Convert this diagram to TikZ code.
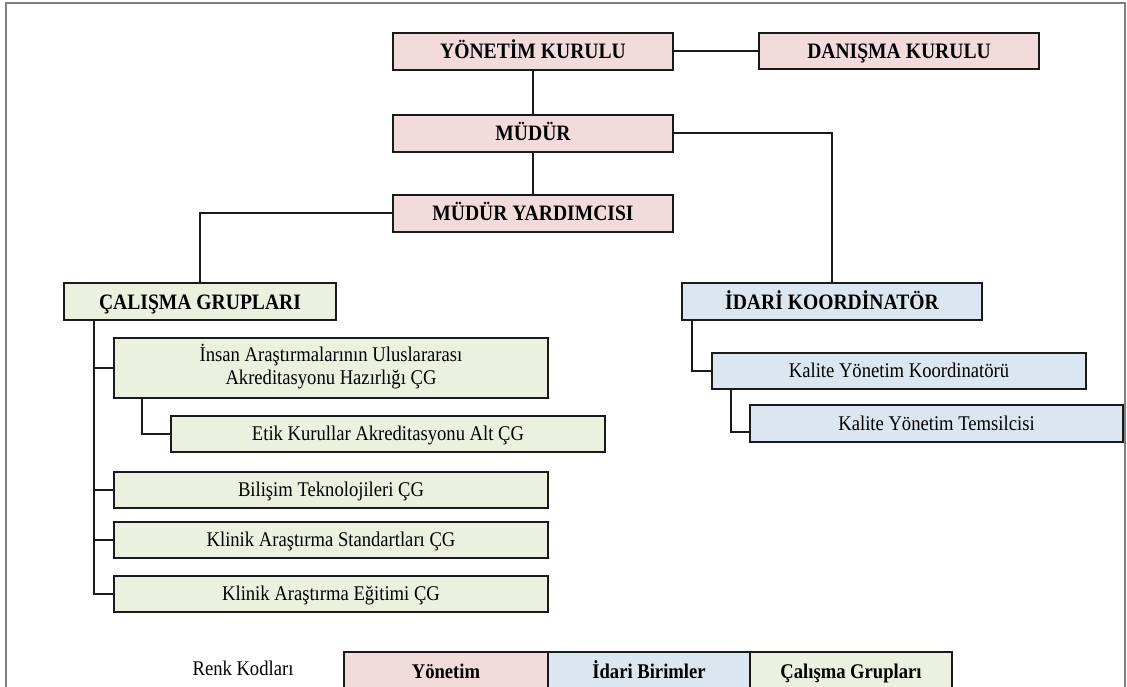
\documentclass[tikz,border=0pt]{standalone}
\usepackage{graphicx}
\usepackage{fontspec}
\setmainfont{Liberation Serif}
\definecolor{yonetim}{HTML}{F2DCDB}
\definecolor{idari}{HTML}{DCE6F1}
\definecolor{calisma}{HTML}{EBF1DE}
\definecolor{edge}{HTML}{1A1A1A}
\definecolor{framec}{HTML}{7F7F7F}
\newcommand{\tx}[1]{\scalebox{0.98}[1.1]{#1}}
\tikzset{
  box/.style={draw=edge, line width=2pt, inner sep=0pt, text=black, align=center},
  titlebox/.style={box, font=\fontsize{20}{24}\selectfont\bfseries, text height=15pt, text depth=0pt},
  plainbox/.style={box, font=\fontsize{19}{21}\selectfont},
  oneline/.style={text height=13pt, text depth=0pt},
  legendbox/.style={box, font=\fontsize{19}{23}\selectfont\bfseries, minimum height=38pt, text height=14pt, text depth=0pt},
  conn/.style={draw=edge, line width=2pt},
}
\begin{document}
\begin{tikzpicture}[x=1pt, y=-1pt]
\useasboundingbox (0,0) rectangle (1127,687);
\clip (0,0) rectangle (1127,687);
\draw[framec, line width=1.5pt] (6,3) rectangle (1125,710);

% management
\node[titlebox, fill=yonetim, minimum width=280pt, minimum height=37pt] (yk) at (533,51.5) {\tx{YÖNETİM KURULU}};
\node[titlebox, fill=yonetim, minimum width=280pt, minimum height=36pt] (dk) at (899,51) {\tx{DANIŞMA KURULU}};
\node[titlebox, fill=yonetim, minimum width=280pt, minimum height=37pt] (mud) at (533,133.5) {\tx{MÜDÜR}};
\node[titlebox, fill=yonetim, minimum width=280pt, minimum height=37pt] (my) at (533,213.5) {\tx{MÜDÜR YARDIMCISI}};

% working groups
\node[titlebox, fill=calisma, minimum width=272pt, minimum height=37pt] (cg) at (200,301.5) {\tx{ÇALIŞMA GRUPLARI}};
\node[plainbox, fill=calisma, minimum width=434pt, minimum height=60pt] (ins) at (331,368) {\tx{\begin{tabular}{@{}c@{}}İnsan Araştırmalarının Uluslararası\\Akreditasyonu Hazırlığı ÇG\end{tabular}}};
\node[plainbox, oneline, fill=calisma, minimum width=434pt, minimum height=36pt] (etik) at (388,434) {\tx{Etik Kurullar Akreditasyonu Alt ÇG}};
\node[plainbox, oneline, fill=calisma, minimum width=434pt, minimum height=36pt] (bil) at (331,490) {\tx{Bilişim Teknolojileri ÇG}};
\node[plainbox, oneline, fill=calisma, minimum width=434pt, minimum height=36pt] (std) at (331,540) {\tx{Klinik Araştırma Standartları ÇG}};
\node[plainbox, oneline, fill=calisma, minimum width=434pt, minimum height=36pt] (egt) at (331,594) {\tx{Klinik Araştırma Eğitimi ÇG}};

% administrative units
\node[titlebox, fill=idari, minimum width=300pt, minimum height=37pt] (ik) at (832,301.5) {\tx{İDARİ KOORDİNATÖR}};
\node[plainbox, oneline, fill=idari, minimum width=374pt, minimum height=36pt] (kyk) at (899,371) {\tx{Kalite Yönetim Koordinatörü}};
\node[plainbox, oneline, fill=idari, minimum width=373pt, minimum height=37pt] (kyt) at (936.5,423.5) {\tx{Kalite Yönetim Temsilcisi}};

% connectors
\draw[conn] (yk.south) -- (mud.north);
\draw[conn] (mud.south) -- (my.north);
\draw[conn] (yk.east) -- (yk.east -| dk.west);
\draw[conn] (my.west) -| (cg.north);
\draw[conn] (mud.east) -| (ik.north);

\coordinate (cgb) at (94,320);
\draw[conn] (cgb) |- (egt.west);
\foreach \n in {ins,bil,std} \draw[conn] (cgb |- \n.west) -- (\n.west);
\coordinate (insb) at (142,398);
\draw[conn] (insb) |- (etik.west);

\coordinate (ikb) at (692,320);
\draw[conn] (ikb) |- (kyk.west);
\coordinate (kykb) at (731,389);
\draw[conn] (kykb) |- ([yshift=-8pt]kyt.west);

% legend
\node[font=\fontsize{19}{23}\selectfont] (renk) at (243,668) {\tx{Renk Kodları}};
\node[legendbox, fill=yonetim, minimum width=204pt] (ly) at (446,671) {\tx{Yönetim}};
\node[legendbox, fill=idari, minimum width=202pt] (li) at (649,671) {\tx{İdari Birimler}};
\node[legendbox, fill=calisma, minimum width=202pt] (lc) at (851,671) {\tx{Çalışma Grupları}};
\end{tikzpicture}
\end{document}
